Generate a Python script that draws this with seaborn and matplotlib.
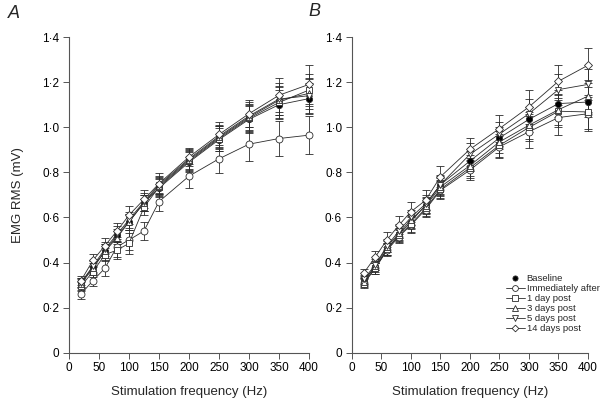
import matplotlib
matplotlib.use("Agg")
import matplotlib.pyplot as plt
from matplotlib.lines import Line2D
import seaborn as sns

# stimulation frequencies (Hz)
freq = [20, 40, 60, 80, 100, 125, 150, 200, 250, 300, 350, 400]

labels = ['Baseline', 'Immediately after', '1 day post', '3 days post',
          '5 days post', '14 days post']

# panel A, EMG RMS (mV)
base_a = [0.31, 0.38, 0.45, 0.52, 0.58, 0.665, 0.73, 0.845, 0.945, 1.035, 1.10, 1.127]
imm_a = [0.26, 0.32, 0.375, 0.47, 0.50, 0.54, 0.67, 0.783, 0.86, 0.925, 0.95, 0.965]
day1_a = [0.295, 0.36, 0.435, 0.455, 0.485, 0.645, 0.735, 0.85, 0.95, 1.04, 1.11, 1.165]
day3_a = [0.305, 0.375, 0.45, 0.51, 0.58, 0.665, 0.74, 0.855, 0.955, 1.045, 1.12, 1.15]
day5_a = [0.31, 0.385, 0.46, 0.525, 0.59, 0.67, 0.745, 0.86, 0.96, 1.05, 1.125, 1.14]
day14_a = [0.32, 0.41, 0.475, 0.54, 0.61, 0.68, 0.75, 0.868, 0.968, 1.06, 1.142, 1.19]

base_a_err = [0.02, 0.025, 0.03, 0.03, 0.035, 0.035, 0.04, 0.045, 0.05, 0.06, 0.065, 0.07]
imm_a_err = [0.02, 0.025, 0.035, 0.045, 0.045, 0.04, 0.04, 0.053, 0.063, 0.075, 0.078, 0.085]
day1_a_err = [0.02, 0.025, 0.03, 0.04, 0.045, 0.035, 0.04, 0.045, 0.055, 0.06, 0.07, 0.07]
day3_a_err = [0.02, 0.025, 0.03, 0.03, 0.035, 0.035, 0.04, 0.045, 0.05, 0.06, 0.065, 0.07]
day5_a_err = [0.02, 0.025, 0.03, 0.035, 0.035, 0.04, 0.04, 0.045, 0.05, 0.06, 0.07, 0.075]
day14_a_err = [0.02, 0.03, 0.035, 0.035, 0.04, 0.04, 0.045, 0.04, 0.055, 0.06, 0.075, 0.085]

# panel B, EMG RMS (mV)
base_b = [0.32, 0.38, 0.46, 0.525, 0.58, 0.655, 0.745, 0.85, 0.953, 1.035, 1.105, 1.112]
imm_b = [0.31, 0.375, 0.455, 0.515, 0.565, 0.635, 0.72, 0.81, 0.913, 0.98, 1.043, 1.06]
day1_b = [0.305, 0.375, 0.46, 0.52, 0.57, 0.64, 0.725, 0.82, 0.92, 0.999, 1.071, 1.068]
day3_b = [0.315, 0.385, 0.47, 0.53, 0.59, 0.65, 0.735, 0.83, 0.935, 1.009, 1.078, 1.138]
day5_b = [0.325, 0.39, 0.475, 0.54, 0.60, 0.66, 0.745, 0.88, 0.97, 1.06, 1.167, 1.19]
day14_b = [0.352, 0.425, 0.502, 0.566, 0.625, 0.676, 0.78, 0.902, 0.994, 1.09, 1.204, 1.275]

base_b_err = [0.02, 0.02, 0.025, 0.03, 0.03, 0.035, 0.04, 0.045, 0.05, 0.055, 0.06, 0.065]
imm_b_err = [0.02, 0.025, 0.025, 0.03, 0.035, 0.035, 0.04, 0.045, 0.05, 0.07, 0.078, 0.076]
day1_b_err = [0.02, 0.025, 0.025, 0.03, 0.035, 0.035, 0.04, 0.045, 0.05, 0.06, 0.07, 0.075]
day3_b_err = [0.02, 0.02, 0.025, 0.03, 0.035, 0.035, 0.04, 0.045, 0.05, 0.06, 0.07, 0.07]
day5_b_err = [0.02, 0.025, 0.03, 0.03, 0.035, 0.04, 0.045, 0.05, 0.055, 0.065, 0.07, 0.07]
day14_b_err = [0.02, 0.025, 0.035, 0.04, 0.045, 0.045, 0.047, 0.052, 0.06, 0.077, 0.074, 0.078]

xticks = [0, 50, 100, 150, 200, 250, 300, 350, 400]
yticks = [0, 0.2, 0.4, 0.6, 0.8, 1.0, 1.2, 1.4]
ytick_labels = ['0', '0·2', '0·4', '0·6', '0·8', '1·0', '1·2', '1·4']

markers = ['o', 'o', 's', '^', 'v', 'D']
sizes = [4.5, 5, 4.5, 5, 5, 4.2]
faces = ['black', 'white', 'white', 'white', 'white', 'white']
ink = '#2b2b2b'

sns.set_style("ticks")
plt.rcParams['font.family'] = ['Liberation Sans', 'DejaVu Sans']
plt.rcParams['axes.edgecolor'] = '#555555'
plt.rcParams['xtick.color'] = '#555555'
plt.rcParams['ytick.color'] = '#555555'
plt.rcParams['xtick.labelcolor'] = 'black'
plt.rcParams['ytick.labelcolor'] = 'black'

fig = plt.figure(figsize=(6.03, 4.03), dpi=100)
ax_a = fig.add_axes([0.1144, 0.1248, 0.398, 0.7832])
ax_b = fig.add_axes([0.5833, 0.1248, 0.3918, 0.7832])


def draw_panel(ax, series, errors, show_ylabel):
    for i in range(len(series)):
        eb = ax.errorbar(freq, series[i], yerr=errors[i], fmt='none', ecolor=ink,
                         elinewidth=0.6, capsize=2.8, capthick=0.6, zorder=2)
        for part in eb.lines[1] + eb.lines[2]:
            part.set_clip_on(False)
        sns.lineplot(x=freq, y=series[i], ax=ax, color=ink, lw=0.6,
                     marker=markers[i], markersize=sizes[i], mfc=faces[i],
                     mec=ink, mew=0.6, zorder=3 + i, clip_on=False)
    ax.set_xlim(0, 400)
    ax.set_ylim(0, 1.4)
    ax.set_xticks(xticks)
    ax.set_yticks(yticks)
    ax.set_yticklabels(ytick_labels)
    ax.tick_params(labelsize=8.5, length=4, width=0.7, direction='out', pad=3)
    ax.set_xlabel('Stimulation frequency (Hz)', fontsize=9.5, labelpad=8)
    if show_ylabel:
        ax.set_ylabel('EMG RMS (mV)', fontsize=9.5, labelpad=13)
    else:
        ax.set_ylabel('')
    for side in ['left', 'bottom']:
        ax.spines[side].set_linewidth(0.8)
    sns.despine(ax=ax)


draw_panel(ax_a, [base_a, imm_a, day1_a, day3_a, day5_a, day14_a],
           [base_a_err, imm_a_err, day1_a_err, day3_a_err, day5_a_err, day14_a_err], True)
draw_panel(ax_b, [base_b, imm_b, day1_b, day3_b, day5_b, day14_b],
           [base_b_err, imm_b_err, day1_b_err, day3_b_err, day5_b_err, day14_b_err], False)

fig.text(0.013, 0.967, 'A', fontsize=13, style='italic', va='center')
fig.text(0.512, 0.972, 'B', fontsize=13, style='italic', va='center')

handles = []
for i in range(len(labels)):
    handles.append(Line2D([], [], color=ink, lw=0.6 if i > 0 else 0,
                          marker=markers[i], markersize=sizes[i] - 0.8,
                          mfc=faces[i], mec=ink, mew=0.6))
ax_b.legend(handles, labels, loc='lower right', bbox_to_anchor=(1.065, 0.05),
            frameon=False, fontsize=6.8, handlelength=2.0, handletextpad=0.2,
            labelspacing=0.1, borderaxespad=0)

fig.savefig('out.png', dpi=100)
